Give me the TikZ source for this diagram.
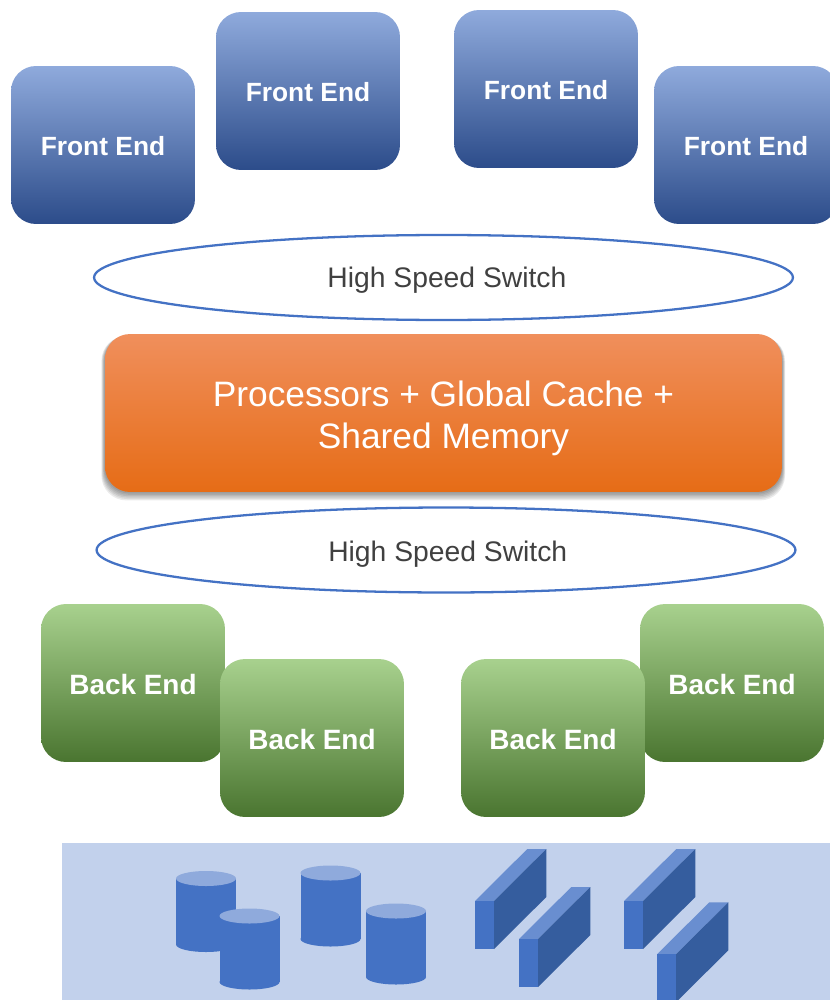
\documentclass[tikz,border=0pt]{standalone}
\usepackage{fontspec}
\setmainfont{Liberation Sans}
\usetikzlibrary{shapes.geometric}
\definecolor{blueA}{HTML}{8FAADC}
\definecolor{blueB}{HTML}{4472C4}
\definecolor{blueC}{HTML}{2C4C8A}
\definecolor{greenA}{HTML}{A8D18E}
\definecolor{greenB}{HTML}{70AD47}
\definecolor{greenC}{HTML}{4A7530}
\definecolor{orangeA}{HTML}{F08F5C}
\definecolor{orangeB}{HTML}{F67B28}
\definecolor{orangeC}{HTML}{E66C16}
\definecolor{panel}{HTML}{C2D1EC}
\definecolor{brickTop}{HTML}{698ED0}
\definecolor{brickSide}{HTML}{355D9E}
\definecolor{textgray}{HTML}{404040}
\tikzset{
  endbox/.style={rectangle, rounded corners=0.5cm, minimum width=3.68cm, minimum height=3.16cm,
    inner sep=0pt, text=white},
  frontbox/.style={endbox, top color=blueA, middle color=blueB, bottom color=blueC,
    text height=12.1pt, font=\fontsize{15}{18}\selectfont\bfseries},
  backbox/.style={endbox, top color=greenA, middle color=greenB, bottom color=greenC,
    text height=12.7pt, font=\fontsize{15.9}{19}\selectfont\bfseries},
  switchring/.style={ellipse, draw=blueB, line width=1.3pt, minimum width=13.98cm, minimum height=1.7cm,
    inner sep=0pt, text=textgray, font=\fontsize{16.1}{19}\selectfont},
  corebox/.style={rectangle, rounded corners=0.5cm, minimum width=13.54cm, minimum height=3.16cm,
    inner sep=0pt, text=white, align=center, font=\fontsize{20.1}{23.9}\selectfont,
    top color=orangeA, middle color=orangeB, bottom color=orangeC},
  coreshadow/.style={fill=black, opacity=0.08, rounded corners=0.5cm},
}
\begin{document}
\begin{tikzpicture}[x=0.02cm, y=-0.02cm]
  \path[use as bounding box, clip] (0,0) rectangle (830,1000);
  % front ends
  \foreach \i/\x/\y in {1/103/145, 2/308/91, 3/546/89, 4/746/145}
  {
    \node[frontbox] (front\i) at (\x,\y) {Front End};
  }
  % switches and shared core
  \node[switchring, text height=15.1pt] (switchtop) at (443.5,277.5) {\hspace*{3.9pt}High Speed Switch};
  \foreach \d in {1,...,6}
  {
    \fill[coreshadow] (105-0.6*\d,336) rectangle (782+0.5*\d,492+1.4*\d);
  }
  \node[corebox] (core) at (443.5,413) {\rule{0pt}{20.2pt}Processors + Global Cache +\\Shared Memory};
  \node[switchring, text height=16.2pt] (switchbottom) at (446,550) {\hspace*{2pt}High Speed Switch};
  % back ends
  \foreach \i/\x/\y in {1/133/683, 2/312/738, 4/732/683, 3/553/738}
  {
    \node[backbox] (back\i) at (\x,\y) {Back End};
  }
  % storage panel
  \fill[panel] (62,843) rectangle (830,1000);
  % disks (x/y of the top face)
  \foreach \x/\y in {206/878.5, 249.5/916, 330.5/873, 396/911}
  {
    \fill[blueB] (\x-30,\y) rectangle (\x+30,\y+66);
    \fill[blueB] (\x,\y+66) ellipse [x radius=30, y radius=7.5];
    \fill[blueA] (\x,\y) ellipse [x radius=30, y radius=7.5];
  }
  % bricks (x/y of the front face)
  \foreach \x/\y in {475/901, 519/939, 624/901, 657/954.3}
  {
    \fill[brickTop] (\x,\y) -- ++(52.3,-52) -- ++(19,0) -- ++(-52.3,52) -- cycle;
    \fill[brickSide] (\x+19,\y) -- ++(52.3,-52) -- ++(0,48) -- ++(-52.3,52) -- cycle;
    \fill[blueB] (\x,\y) rectangle (\x+19,\y+48);
  }
\end{tikzpicture}
\end{document}
